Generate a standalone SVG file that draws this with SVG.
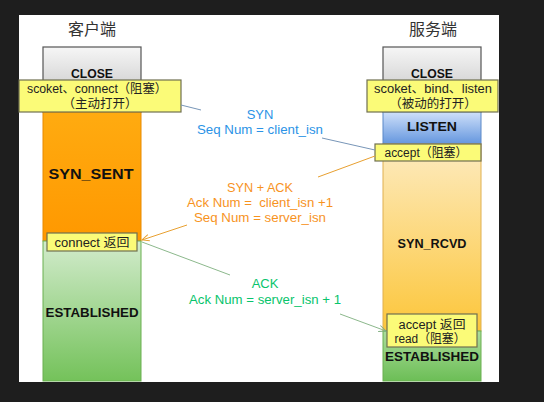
<svg xmlns="http://www.w3.org/2000/svg" width="544" height="402" viewBox="0 0 544 402">
<defs>
<linearGradient id="gGray" x1="0" y1="0" x2="0" y2="1"><stop offset="0" stop-color="#f6f6f6"/><stop offset="1" stop-color="#bdbdbd"/></linearGradient>
<linearGradient id="gOrange" x1="0" y1="0" x2="0" y2="1"><stop offset="0" stop-color="#ffab10"/><stop offset="1" stop-color="#ff9800"/></linearGradient>
<linearGradient id="gGreenC" x1="0" y1="0" x2="0" y2="1"><stop offset="0" stop-color="#d2ebcc"/><stop offset="1" stop-color="#74c25a"/></linearGradient>
<linearGradient id="gBlue" x1="0" y1="0" x2="0" y2="1"><stop offset="0" stop-color="#cfe0fa"/><stop offset="1" stop-color="#6496de"/></linearGradient>
<linearGradient id="gLight" x1="0" y1="0" x2="0" y2="1"><stop offset="0" stop-color="#fdebc0"/><stop offset="1" stop-color="#fcc63a"/></linearGradient>
<linearGradient id="gGreenS" x1="0" y1="0" x2="0" y2="1"><stop offset="0" stop-color="#acdc9c"/><stop offset="1" stop-color="#6cbe56"/></linearGradient>
<marker id="arrOrange" viewBox="0 0 10 10" refX="9" refY="5" markerWidth="8" markerHeight="8" orient="auto" markerUnits="userSpaceOnUse"><path d="M0,1 L9,5 L0,9" fill="none" stroke="#e8a030" stroke-width="1.2"/></marker>
<marker id="arrGreen" viewBox="0 0 10 10" refX="9" refY="5" markerWidth="8" markerHeight="8" orient="auto" markerUnits="userSpaceOnUse"><path d="M0,1 L9,5 L0,9" fill="none" stroke="#7fae7f" stroke-width="1.2"/></marker>
</defs>
<style>
.state{font-family:"Liberation Sans",Arial,sans-serif;font-weight:bold;font-size:13px;fill:#111;text-anchor:middle}
.note{font-family:"Liberation Sans","Noto Sans CJK SC",sans-serif;font-size:12.5px;fill:#222;text-anchor:middle}
.title{font-family:"Noto Sans CJK SC",sans-serif;font-size:16px;fill:#333;text-anchor:middle}
.lbl{font-family:"Liberation Sans",Arial,sans-serif;font-size:13px;text-anchor:middle}
.ybox{fill:#fbfb78;stroke:#707050;stroke-width:1.2}
.blue{fill:#2b93e6}.orange{fill:#f7931e}.green{fill:#08c46c}
</style>
<rect x="0" y="0" width="544" height="402" fill="#1e1e1e"/>
<rect x="19" y="15" width="480" height="367" fill="#ffffff"/>

<g id="client">
<text class="title" x="92" y="35">客户端</text>
<rect x="43" y="47" width="98" height="65" fill="url(#gGray)" stroke="#555" stroke-width="1.2"/>
<text class="state" x="92" y="78" textLength="42" lengthAdjust="spacingAndGlyphs">CLOSE</text>
<rect x="43" y="112" width="98" height="129" fill="url(#gOrange)" stroke="#e88a00" stroke-width="1"/>
<text class="state" x="91" y="179" style="font-size:15px" textLength="85" lengthAdjust="spacingAndGlyphs">SYN_SENT</text>
<rect x="43" y="241" width="98" height="140" fill="url(#gGreenC)" stroke="#6ab050" stroke-width="1"/>
<text class="state" x="92" y="317" textLength="93" lengthAdjust="spacingAndGlyphs">ESTABLISHED</text>
</g>

<g id="client-open">
<rect class="ybox" x="19" y="80" width="162" height="32"/>
<text class="note" x="97" y="93" textLength="140" lengthAdjust="spacingAndGlyphs">scoket、connect（阻塞）</text>
<text class="note" x="100" y="108">（主动打开）</text>
</g>

<g id="client-connect">
<rect class="ybox" x="47" y="233" width="90" height="18"/>
<text class="note" x="92" y="247" textLength="75" lengthAdjust="spacingAndGlyphs">connect 返回</text>
</g>

<g id="server">
<text class="title" x="433" y="35">服务端</text>
<rect x="383" y="47" width="98" height="65" fill="url(#gGray)" stroke="#555" stroke-width="1.2"/>
<text class="state" x="432" y="78" textLength="42" lengthAdjust="spacingAndGlyphs">CLOSE</text>
<rect x="383" y="112" width="98" height="32" fill="url(#gBlue)" stroke="#5a88c8" stroke-width="1"/>
<text class="state" x="432" y="131" textLength="50" lengthAdjust="spacingAndGlyphs">LISTEN</text>
<rect x="383" y="144" width="98" height="187" fill="url(#gLight)" stroke="#e0b050" stroke-width="1"/>
<text class="state" x="432" y="248" textLength="69" lengthAdjust="spacingAndGlyphs">SYN_RCVD</text>
<rect x="383" y="331" width="98" height="50" fill="url(#gGreenS)" stroke="#6ab050" stroke-width="1"/>
<text class="state" x="432" y="361" textLength="94" lengthAdjust="spacingAndGlyphs">ESTABLISHED</text>
</g>

<g id="server-open">
<rect class="ybox" x="367" y="80" width="131" height="32"/>
<text class="note" x="433" y="93" textLength="118" lengthAdjust="spacingAndGlyphs">scoket、bind、listen</text>
<text class="note" x="433" y="108">（被动的打开）</text>
</g>

<g id="server-accept">
<rect class="ybox" x="375" y="144" width="106" height="17"/>
<text class="note" x="426" y="157" textLength="83" lengthAdjust="spacingAndGlyphs">accept（阻塞）</text>
</g>

<g id="server-accept-return">
<rect class="ybox" x="387" y="314" width="90" height="33"/>
<text class="note" x="432" y="329" textLength="67" lengthAdjust="spacingAndGlyphs">accept 返回</text>
<text class="note" x="430" y="343" textLength="71" lengthAdjust="spacingAndGlyphs">read（阻塞）</text>
</g>

<g id="connectors" fill="none" stroke-width="1">
<line x1="181" y1="105" x2="201" y2="110" stroke="#7896b8"/>
<line x1="322" y1="138" x2="375" y2="150" stroke="#7896b8"/>
<line x1="375" y1="156" x2="318" y2="177" stroke="#e8a030"/>
<line x1="187" y1="225" x2="142" y2="240" stroke="#e8a030" marker-end="url(#arrOrange)"/>
<line x1="142" y1="242" x2="230" y2="275" stroke="#8cb88c"/>
<line x1="340" y1="314" x2="386" y2="331" stroke="#8cb88c" marker-end="url(#arrGreen)"/>
</g>

<g id="labels">
<text class="lbl blue" x="260" y="119">SYN</text>
<text class="lbl blue" x="260" y="134" textLength="126" lengthAdjust="spacingAndGlyphs">Seq Num = client_isn</text>
<text class="lbl orange" x="260" y="192" textLength="66" lengthAdjust="spacingAndGlyphs">SYN + ACK</text>
<text class="lbl orange" x="260" y="207" textLength="146" lengthAdjust="spacingAndGlyphs" xml:space="preserve">Ack Num =  client_isn +1</text>
<text class="lbl orange" x="260" y="222" textLength="132" lengthAdjust="spacingAndGlyphs">Seq Num = server_isn</text>
<text class="lbl green" x="265" y="288">ACK</text>
<text class="lbl green" x="265" y="304" textLength="152" lengthAdjust="spacingAndGlyphs">Ack Num = server_isn + 1</text>
</g>
</svg>
